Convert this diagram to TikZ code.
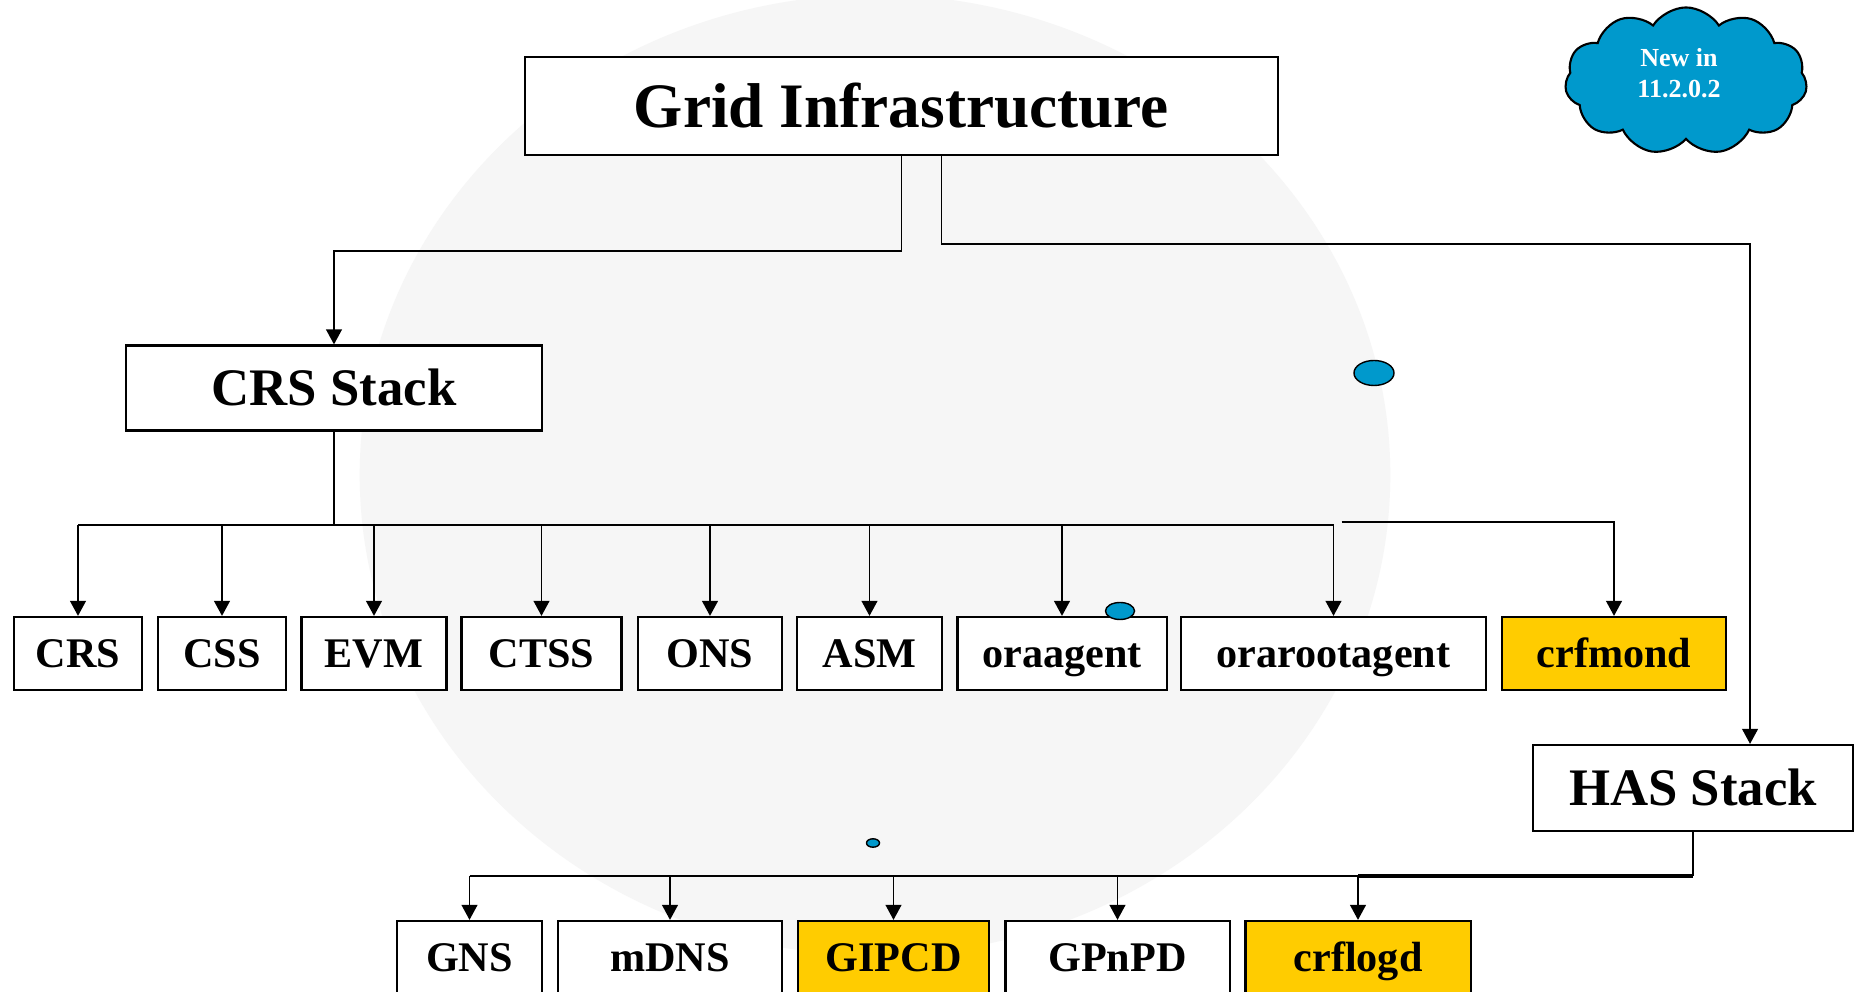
\documentclass[tikz,border=0pt]{standalone}
\usepackage{fontspec}
\setmainfont{Liberation Serif}
\usetikzlibrary{arrows.meta,shapes.symbols}
\definecolor{cloudblue}{RGB}{0,153,204}
\definecolor{newyellow}{RGB}{255,204,0}

\begin{document}
\begin{tikzpicture}[x=0.01cm,y=-0.01cm,
	box/.style={draw,line width=0.6pt,fill=white,inner sep=0pt,text height=10pt,text depth=2pt,font=\fontsize{12}{14}\selectfont\bfseries},
	newbox/.style={box,fill=newyellow},
	bigbox/.style={box,text height=12.5pt,text depth=2.5pt,font=\fontsize{15}{17}\selectfont\bfseries},
	link/.style={line width=0.55pt},
	arrow/.style={link,-{Triangle[length=4.3pt,width=4.5pt]}},
	dot/.style={draw,line width=0.4pt,fill=cloudblue}]
	\useasboundingbox (0,0) rectangle (1860,992);
	\fill[white] (0,0) rectangle (1860,992);
	\fill[gray!7] (875,475) ellipse [x radius=5.15cm, y radius=4.8cm];
	
	\node[box,minimum width=7.53cm,minimum height=0.98cm,text height=15pt,text depth=3pt,font=\fontsize{18}{20}\selectfont\bfseries] (grid) at (901.5,106) {Grid Infrastructure};
	\node[bigbox,minimum width=4.16cm,minimum height=0.85cm] (crsstack) at (334,388) {CRS Stack};
	\node[bigbox,minimum width=3.19cm,minimum height=0.86cm] (hasstack) at (1693,788) {HAS Stack};
	
	\node[box,minimum width=1.28cm,minimum height=0.73cm] (crs) at (78,653.5) {CRS};
	\node[box,minimum width=1.28cm,minimum height=0.73cm] (css) at (222,653.5) {CSS};
	\node[box,minimum width=1.45cm,minimum height=0.73cm] (evm) at (374,653.5) {EVM};
	\node[box,minimum width=1.60cm,minimum height=0.73cm] (ctss) at (541.5,653.5) {CTSS};
	\node[box,minimum width=1.44cm,minimum height=0.73cm] (ons) at (710,653.5) {ONS};
	\node[box,minimum width=1.45cm,minimum height=0.73cm] (asm) at (869.5,653.5) {ASM};
	\node[box,minimum width=2.09cm,minimum height=0.73cm] (oraagent) at (1062,653.5) {oraagent};
	\node[box,minimum width=3.04cm,minimum height=0.73cm] (orarootagent) at (1333.5,653.5) {orarootagent};
	\node[newbox,minimum width=2.24cm,minimum height=0.73cm] (crfmond) at (1614,653.5) {crfmond};
	
	\node[box,minimum width=1.45cm,minimum height=0.72cm] (gns) at (469.5,957) {GNS};
	\node[box,minimum width=2.24cm,minimum height=0.72cm] (mdns) at (670,957) {mDNS};
	\node[newbox,minimum width=1.91cm,minimum height=0.72cm] (gipcd) at (893.5,957) {GIPCD};
	\node[box,minimum width=2.24cm,minimum height=0.72cm] (gpnpd) at (1117.5,957) {GPnPD};
	\node[newbox,minimum width=2.25cm,minimum height=0.72cm] (crflogd) at (1358,957) {crflogd};
	
	\node[cloud,cloud puffs=11,cloud puff arc=115,aspect=1.65,draw,line width=0.6pt,fill=cloudblue,
		minimum width=2.42cm,minimum height=1.47cm] (newin) at (1686,81) {};
	\node[align=center,text=white,inner sep=0pt,font=\fontsize{7.4}{9}\selectfont\bfseries] (newtext) at (1679,73) {New in\\11.2.0.2};
	
	\draw[arrow] (grid.south) -- ++(0,95) -| (crsstack.north);
	\draw[arrow] ([xshift=0.4cm]grid.south) -- ++(0,88) -| ([xshift=0.57cm]hasstack.north);
	
	\draw[link] (crsstack.south) -- ++(0,93) coordinate (crsbus);
	\draw[link] (crsbus -| crs.north) -- (crsbus -| orarootagent.north);
	\foreach \n in {crs,css,evm,ctss,ons,asm,oraagent,orarootagent}
		\draw[arrow] (crsbus -| \n.north) -- (\n.north);
	\draw[arrow] ([xshift=0.08cm,yshift=0.025cm]crsbus -| orarootagent.north) -| (crfmond.north);
	
	\draw[link] (hasstack.south) -- ++(0,44) coordinate (hasbus);
	\draw[link] (hasbus -| gns.north) -- (hasbus);
	\draw[line width=1.1pt] (hasbus -| crflogd.north) -- (hasbus);
	\foreach \n in {gns,mdns,gipcd,gpnpd,crflogd}
		\draw[arrow] (hasbus -| \n.north) -- (\n.north);
	
	\draw[dot] (1374,373) ellipse [x radius=0.2cm, y radius=0.125cm];
	\draw[dot] (1120,611) ellipse [x radius=0.145cm, y radius=0.085cm];
	\draw[dot] (873,843) ellipse [x radius=0.065cm, y radius=0.042cm];
\end{tikzpicture}
\end{document}
